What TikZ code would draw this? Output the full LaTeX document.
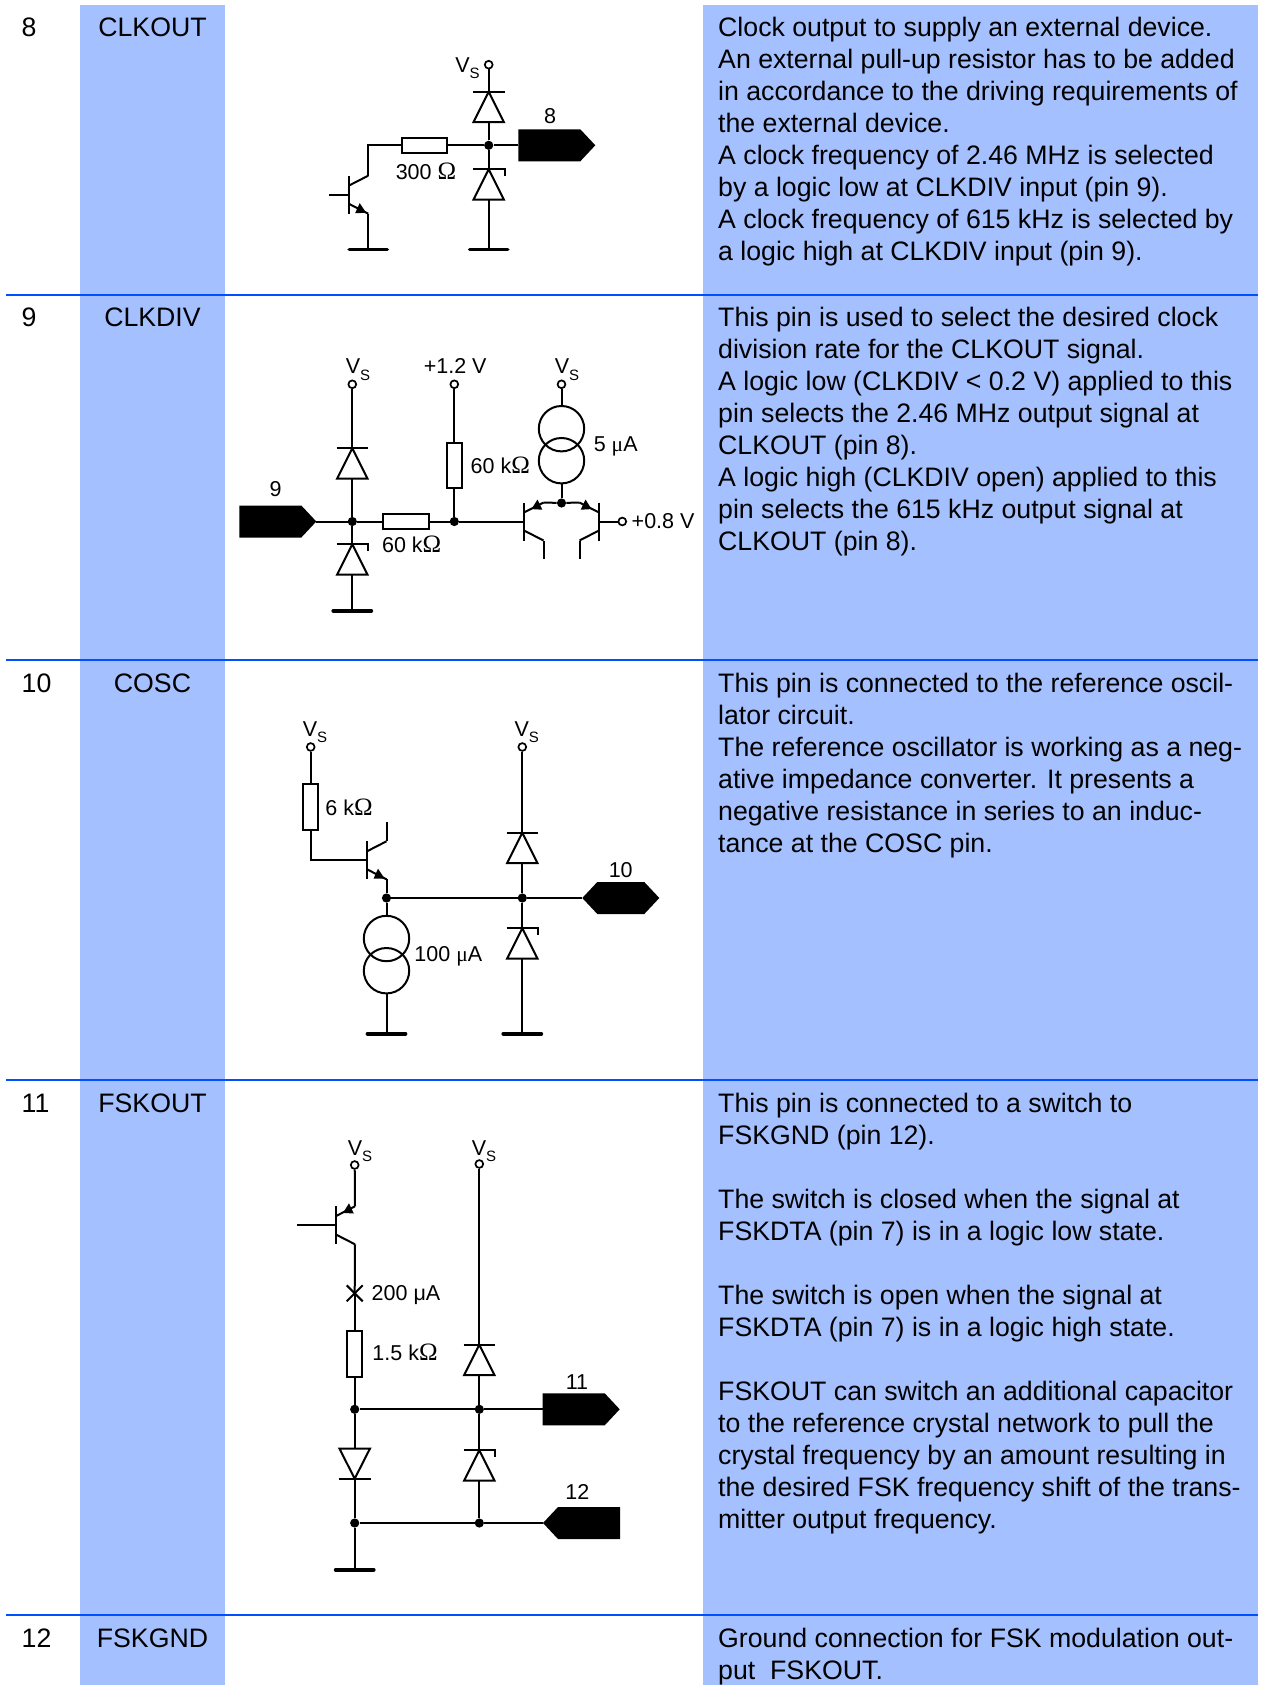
\documentclass[tikz,border=0pt]{standalone}
\usepackage{fontspec}
\setmainfont{Liberation Sans}
\newfontfamily\symf{Liberation Serif}
\definecolor{colblue}{HTML}{A4C0FF}
\definecolor{rulecol}{HTML}{0050FF}
\newcommand{\ohm}{{\symf\fontsize{25}{24}\selectfont Ω}}
\newcommand{\mic}{{\symf μ}}
\newcommand{\vsup}{V\raisebox{-6.5pt}{\fontsize{15}{15}\selectfont S}}
\tikzset{
  wire/.style={line width=2pt,line join=miter},
  rulel/.style={line width=1.6pt,draw=rulecol},
  desctext/.style={anchor=north west,align=left,inner sep=0pt,font=\fontsize{26.7}{32}\selectfont},
  celltext/.style={inner sep=0pt,font=\fontsize{26.7}{30}\selectfont},
  numtext/.style={anchor=base west,celltext},
  nametext/.style={anchor=base,celltext},
  lbl/.style={inner sep=0pt,font=\fontsize{21.5}{24}\selectfont},
  term/.style={circle,draw,line width=1.7pt,fill=white,minimum size=7.8pt,inner sep=0pt},
  junction/.style={circle,fill=black,minimum size=9.2pt,inner sep=0pt},
  resh/.style={rectangle,draw,line width=2pt,fill=white,minimum width=45.5pt,minimum height=15.5pt,inner sep=0pt},
  resv/.style={rectangle,draw,line width=2pt,fill=white,minimum width=15.5pt,minimum height=45.5pt,inner sep=0pt},
  srccirc/.style={circle,draw,line width=2pt,minimum size=45.4pt,inner sep=0pt},
  gndpic/.pic={
    \draw[line width=3.8pt,line cap=round] (-19,0) -- (19,0);
    \coordinate (-a) at (0,0);
  },
  diodepic/.pic={
    \draw[wire] (-15.8,0) -- (15.8,0);
    \draw[wire] (0,0) -- (15.2,30.4) -- (-15.2,30.4) -- cycle;
    \coordinate (-a) at (0,0);
    \coordinate (-k) at (0,30.4);
  },
  zenerpic/.pic={
    \draw[wire] (-15.8,0) -- (15.8,0) -- (15.8,7);
    \draw[wire] (0,0) -- (15.2,30.4) -- (-15.2,30.4) -- cycle;
    \coordinate (-a) at (0,0);
    \coordinate (-k) at (0,30.4);
  },
  ddownpic/.pic={
    \draw[wire] (-15.8,30) -- (15.8,30);
    \draw[wire] (0,30) -- (15.2,0) -- (-15.2,0) -- cycle;
    \coordinate (-a) at (0,0);
    \coordinate (-k) at (0,30);
  },
  npnpic/.pic={
    \draw[wire] (0,-19) -- (0,19);
    \draw[wire] (0,-9) -- (19.5,-19);
    \draw[wire] (0,9) -- (19.5,19);
    \fill (17.5,18.2) -- (6.5,18.4) -- (11,8.4) -- cycle;
    \coordinate (-b) at (0,0);
    \coordinate (-c) at (19.5,-19);
    \coordinate (-e) at (19.5,19);
  },
  pnppic/.pic={
    \draw[wire] (0,-19) -- (0,19);
    \draw[wire] (0,-9) -- (19.5,-19);
    \draw[wire] (0,9) -- (19.5,19);
    \fill (7.5,-12.4) -- (18.3,-11.8) -- (13.5,-22) -- cycle;
    \coordinate (-b) at (0,0);
    \coordinate (-c) at (19.5,19);
    \coordinate (-e) at (19.5,-19);
  },
  pinrpic/.pic={
    \fill (0,-16) -- (62,-16) -- (77,0) -- (62,16) -- (0,16) -- cycle;
    \coordinate (-a) at (0,0);
    \coordinate (-t) at (77,0);
  },
  pinlpic/.pic={
    \fill (0,0) -- (15,-16) -- (77,-16) -- (77,16) -- (15,16) -- cycle;
    \coordinate (-a) at (0,0);
  },
  pinbpic/.pic={
    \fill (0,0) -- (15,-16) -- (62,-16) -- (77,0) -- (62,16) -- (15,16) -- cycle;
    \coordinate (-a) at (0,0);
  },
  xcross/.pic={
    \draw[wire] (-8,-8) -- (8,8);
    \draw[wire] (-8,8) -- (8,-8);
    \coordinate (-a) at (0,0);
  },
}
\begin{document}
\begin{tikzpicture}[x=1pt,y=-1pt]
\useasboundingbox (0,0) rectangle (1266,1685);
\fill[white] (0,0) rectangle (1266,1685);
\fill[colblue] (80,5) rectangle (225,1685);
\fill[colblue] (703,5) rectangle (1258,1685);
\draw[rulel] (6,295) -- (1258,295);
\draw[rulel] (6,660) -- (1258,660);
\draw[rulel] (6,1080) -- (1258,1080);
\draw[rulel] (6,1615) -- (1258,1615);

% table cells
\node[numtext] (n8) at (21.5,37) {8};
\node[nametext] (c8) at (152.5,37) {CLKOUT};
\node[numtext] (n9) at (21.5,326.5) {9};
\node[nametext] (c9) at (152.5,326.5) {CLKDIV};
\node[numtext] (n10) at (21.5,692) {10};
\node[nametext] (c10) at (152.5,692) {COSC};
\node[numtext] (n11) at (21.5,1112.5) {11};
\node[nametext] (c11) at (152.5,1112.5) {FSKOUT};
\node[numtext] (n12) at (21.5,1647.5) {12};
\node[nametext] (c12) at (152.5,1647.5) {FSKGND};

\node[desctext] (d8) at (718,16.5) {\rule{0pt}{20pt}Clock output to supply an external device.\\
An external pull-up resistor has to be added\\
in accordance to the driving requirements of\\
the external device.\\
A clock frequency of 2.46 MHz is selected\\
by a logic low at CLKDIV input (pin 9).\\
A clock frequency of 615 kHz is selected by\\
a logic high at CLKDIV input (pin 9).};
\node[desctext] (d9) at (718,306.5) {\rule{0pt}{20pt}This pin is used to select the desired clock\\
division rate for the CLKOUT signal.\\
A logic low (CLKDIV < 0.2 V) applied to this\\
pin selects the 2.46 MHz output signal at\\
CLKOUT (pin 8).\\
A logic high (CLKDIV open) applied to this\\
pin selects the 615 kHz output signal at\\
CLKOUT (pin 8).};
\node[desctext] (d10) at (718,672) {\rule{0pt}{20pt}This pin is connected to the reference oscil-\\
lator circuit.\\
The reference oscillator is working as a neg-\\
ative impedance converter. It presents a\\
negative resistance in series to an induc-\\
tance at the COSC pin.};
\node[desctext] (d11) at (718,1092) {\rule{0pt}{20pt}This pin is connected to a switch to\\
FSKGND (pin 12).\\[32pt]
The switch is closed when the signal at\\
FSKDTA (pin 7) is in a logic low state.\\[32pt]
The switch is open when the signal at\\
FSKDTA (pin 7) is in a logic high state.\\[32pt]
FSKOUT can switch an additional capacitor\\
to the reference crystal network to pull the\\
crystal frequency by an amount resulting in\\
the desired FSK frequency shift of the trans-\\
mitter output frequency.};
\node[desctext] (d12) at (718,1627.5) {\rule{0pt}{20pt}Ground connection for FSK modulation out-\\
put\ \ FSKOUT.};

% ---------- circuit pin 8
\node[term] (vs8) at (488.7,64.7) {};
\node[lbl] (vs8l) at (467.5,68) {\vsup};
\pic (d8a) at (488.7,91.7) {diodepic};
\node[junction] (j8) at (488.7,145.3) {};
\pic (z8) at (488.7,169.3) {zenerpic};
\pic (g8b) at (488.7,249.5) {gndpic};
\pic (p8) at (518.3,145.3) {pinrpic};
\node[lbl] (p8l) at (550,116) {8};
\node[resh] (r8) at (424.3,145.3) {};
\node[lbl] (r8l) at (426,171.7) {300 \ohm};
\pic (t8) at (348.7,194.7) {npnpic};
\coordinate (w8c) at (368.2,145.3);
\coordinate (w8b) at (329.3,194.7);
\pic (g8a) at (368.2,249.5) {gndpic};
\draw[wire] (vs8) -- (d8a-a);
\draw[wire] (d8a-k) -- (j8) -- (z8-a);
\draw[wire] (z8-k) -- (g8b-a);
\draw[wire] (j8) -- (p8-a);
\draw[wire] (j8) -- (r8);
\draw[wire] (r8) -- (w8c) -- (t8-c);
\draw[wire] (w8b) -- (t8-b);
\draw[wire] (t8-e) -- (g8a-a);

% ---------- circuit pin 9
\node[term] (vs9a) at (352.3,384.3) {};
\node[lbl] (vs9al) at (358,369.5) {\vsup};
\pic (d9a) at (352.3,448.3) {diodepic};
\node[junction] (j9a) at (352.3,521.5) {};
\pic (z9) at (352.3,544.3) {zenerpic};
\pic (g9) at (352.3,610.7) {gndpic};
\pic (p9) at (239.3,521.5) {pinrpic};
\node[lbl] (p9l) at (275.7,489) {9};
\node[resh] (r9a) at (405.8,521.5) {};
\node[lbl] (r9al) at (411.7,544) {60 k\ohm};
\node[junction] (j9b) at (454.3,521.5) {};
\node[term] (v12) at (454.3,384.3) {};
\node[lbl] (v12l) at (455.2,365.5) {+1.2 V};
\node[resv] (r9b) at (454.3,465.3) {};
\node[lbl] (r9bl) at (500.3,465) {60 k\ohm};
\pic (t9l) at (524,521.5) {pnppic};
\pic[xscale=-1] (t9r) at (599,521.5) {pnppic};
\node[junction] (j9c) at (561.5,503) {};
\coordinate (c9l) at (543.5,559.3);
\coordinate (c9r) at (579.5,559.3);
\node[term] (v08) at (622.3,521.5) {};
\node[lbl,anchor=west] (v08l) at (631.5,521.5) {+0.8 V};
\node[term] (vs9b) at (561.5,384.3) {};
\node[lbl] (vs9bl) at (567,369.5) {\vsup};
\node[srccirc] (s9a) at (561.5,428.7) {};
\node[srccirc] (s9b) at (561.5,460.7) {};
\node[lbl] (s9l) at (615.7,446) {5 \mic A};
\draw[wire] (vs9a) -- (d9a-a);
\draw[wire] (d9a-k) -- (j9a) -- (z9-a);
\draw[wire] (z9-k) -- (g9-a);
\draw[wire] (p9-t) -- (j9a);
\draw[wire] (j9a) -- (r9a);
\draw[wire] (r9a) -- (j9b);
\draw[wire] (v12) -- (r9b);
\draw[wire] (r9b) -- (j9b);
\draw[wire] (j9b) -- (t9l-b);
\draw[wire] (t9l-e) -- (j9c);
\draw[wire] (t9r-e) -- (j9c);
\draw[wire] (t9l-c) -- (c9l);
\draw[wire] (t9r-c) -- (c9r);
\draw[wire] (t9r-b) -- (v08);
\draw[wire] (vs9b) -- (s9a);
\draw[wire] (s9b) -- (j9c);

% ---------- circuit pin 10
\node[term] (vs10a) at (310.7,747) {};
\node[lbl] (vs10al) at (315,732) {\vsup};
\node[resv] (r10) at (310.7,807.2) {};
\node[lbl] (r10l) at (349,807.2) {6 k\ohm};
\pic (t10) at (367,860.3) {npnpic};
\coordinate (w10a) at (310.7,860.3);
\coordinate (w10c) at (386.5,822.3);
\node[junction] (j10a) at (386.5,898) {};
\node[junction] (j10b) at (522.3,898) {};
\pic (p10) at (582.3,898) {pinbpic};
\node[lbl] (p10l) at (620.7,870) {10};
\node[term] (vs10b) at (522.3,747) {};
\node[lbl] (vs10bl) at (526.7,732) {\vsup};
\pic (d10) at (522.3,832.7) {diodepic};
\pic (z10) at (522.3,928.3) {zenerpic};
\pic (g10b) at (522.3,1033.7) {gndpic};
\node[srccirc] (s10a) at (386.5,938.5) {};
\node[srccirc] (s10b) at (386.5,970.7) {};
\node[lbl] (s10l) at (448.3,956) {100 \mic A};
\pic (g10a) at (386.5,1033.7) {gndpic};
\draw[wire] (vs10a) -- (r10);
\draw[wire] (r10) -- (w10a) -- (t10-b);
\draw[wire] (t10-c) -- (w10c);
\draw[wire] (t10-e) -- (j10a);
\draw[wire] (j10a) -- (j10b);
\draw[wire] (j10b) -- (p10-a);
\draw[wire] (vs10b) -- (d10-a);
\draw[wire] (d10-k) -- (j10b) -- (z10-a);
\draw[wire] (z10-k) -- (g10b-a);
\draw[wire] (j10a) -- (s10a);
\draw[wire] (s10b) -- (g10a-a);

% ---------- circuit pin 11 / 12
\node[term] (vs11a) at (354.7,1165) {};
\node[lbl] (vs11al) at (360,1151) {\vsup};
\pic (t11) at (335.5,1225.3) {pnppic};
\coordinate (w11b) at (297.3,1225.3);
\pic (x11) at (354.7,1293.3) {xcross};
\node[lbl,anchor=west] (x11l) at (371.5,1295.5) {200 μA};
\node[resv] (r11) at (354.7,1354) {};
\node[lbl] (r11l) at (405,1352) {1.5 k\ohm};
\node[term] (vs11b) at (479.3,1164) {};
\node[lbl] (vs11bl) at (484,1151) {\vsup};
\pic (d11) at (479.3,1344.7) {diodepic};
\node[junction] (j11a) at (354.7,1409.3) {};
\node[junction] (j11b) at (479.3,1409.3) {};
\pic (p11) at (542.7,1409.3) {pinrpic};
\node[lbl] (p11l) at (577,1382) {11};
\pic (dd11) at (354.7,1448.7) {ddownpic};
\pic (z11) at (479.3,1450.3) {zenerpic};
\node[junction] (j12a) at (354.7,1523) {};
\node[junction] (j12b) at (479.3,1523) {};
\pic (p12) at (543,1523) {pinlpic};
\node[lbl] (p12l) at (577.3,1491.7) {12};
\pic (g11) at (354.7,1569.7) {gndpic};
\draw[wire] (vs11a) -- (t11-e);
\draw[wire] (w11b) -- (t11-b);
\draw[wire] (t11-c) -- (x11-a);
\draw[wire] (x11-a) -- (r11);
\draw[wire] (r11) -- (j11a);
\draw[wire] (vs11b) -- (d11-a);
\draw[wire] (d11-k) -- (j11b) -- (z11-a);
\draw[wire] (z11-k) -- (j12b);
\draw[wire] (j11a) -- (j11b);
\draw[wire] (j11b) -- (p11-a);
\draw[wire] (j11a) -- (dd11-a);
\draw[wire] (dd11-k) -- (j12a);
\draw[wire] (j12a) -- (j12b);
\draw[wire] (j12b) -- (p12-a);
\draw[wire] (j12a) -- (g11-a);
\end{tikzpicture}
\end{document}
